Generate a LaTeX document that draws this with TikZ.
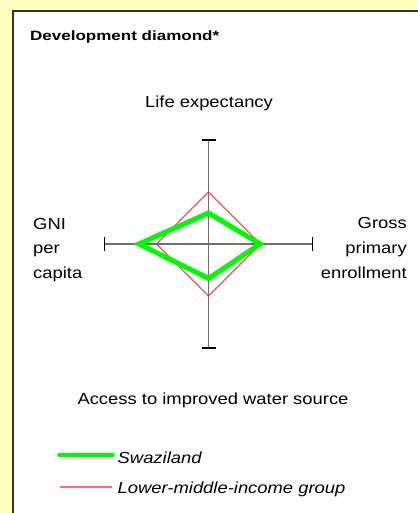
\documentclass[tikz,border=0pt]{standalone}
\usepackage{fontspec}
\setmainfont{Liberation Sans}[FakeStretch=1.15]
\newfontfamily\titlefont{Liberation Sans}[FakeStretch=1.26]
\definecolor{bgyellow}{RGB}{255,255,192}
\definecolor{panelborder}{RGB}{50,50,50}
\definecolor{axisgray}{RGB}{110,110,110}
\definecolor{swgreen}{RGB}{0,250,0}
\definecolor{lmired}{RGB}{255,40,40}
\definecolor{legendred}{RGB}{255,110,110}
\begin{document}
\begin{tikzpicture}[x=1pt,y=-1pt,
  lbl/.style={inner sep=0pt,font=\fontsize{16}{19}\selectfont},
  legendlbl/.style={lbl,font=\fontsize{16}{19}\selectfont\itshape,anchor=base west},
  axisline/.style={draw=axisgray,line width=1.1pt},
  tickline/.style={draw=black,line width=1.3pt},
  greenline/.style={draw=swgreen,line width=5pt,line join=miter},
  redline/.style={draw=lmired,line width=0.9pt,line join=miter}]
\useasboundingbox (0,0) rectangle (417,513);
\fill[bgyellow] (0,0) rectangle (417,513);
\fill[white] (13,11) rectangle (417,513);
\draw[panelborder,line width=2pt] (13,514) -- (13,11) -- (418,11);

\node[inner sep=0pt,anchor=base west,font=\titlefont\bfseries\fontsize{13.5}{16}\selectfont] (title) at (30,41) {Development diamond*};

% axes
\coordinate (c) at (208.5,244);
\coordinate (t) at (208.5,140);
\coordinate (b) at (208.5,348);
\coordinate (l) at (104.5,244);
\coordinate (r) at (312.5,244);
\draw[axisline] (t) -- (b);
\draw[axisline] (l) -- (r);
\draw[tickline] ([xshift=-7pt]t) -- ([xshift=7pt]t);
\draw[tickline] ([xshift=-7pt]b) -- ([xshift=7pt]b);
\draw[tickline] ([yshift=-7pt]l) -- ([yshift=7pt]l);
\draw[tickline] ([yshift=-7pt]r) -- ([yshift=7pt]r);

% diamonds
\draw[redline] (208.5,192) -- (260.5,244) -- (208.5,296) -- (156.5,244) -- cycle;
\draw[greenline] (208.5,213) -- (260,244) -- (208.5,278.5) -- (139,244) -- cycle;

% axis labels
\node[lbl,anchor=base] (life) at (209,108) {Life expectancy};
\node[lbl,anchor=base west] (gni1) at (33,229) {GNI};
\node[lbl,anchor=base west] (gni2) at (33,253.5) {per};
\node[lbl,anchor=base west] (gni3) at (33,278) {capita};
\node[lbl,anchor=base east] (gpe1) at (407,228.5) {Gross};
\node[lbl,anchor=base east] (gpe2) at (407,253) {primary};
\node[lbl,anchor=base east] (gpe3) at (407,278) {enrollment};
\node[lbl,anchor=base] (water) at (213,404) {Access to improved water source};

% legend
\coordinate (lg1a) at (59.5,455);
\coordinate (lg1b) at (112.5,455);
\coordinate (lg2a) at (60,487);
\coordinate (lg2b) at (112,487);
\draw[draw=swgreen,line width=4.5pt,line cap=round] (lg1a) -- (lg1b);
\draw[draw=legendred,line width=1.3pt] (lg2a) -- (lg2b);
\node[legendlbl] (sw) at (117.5,463) {Swaziland};
\node[legendlbl] (lmi) at (117.5,493.5) {Lower-middle-income group};
\end{tikzpicture}
\end{document}
